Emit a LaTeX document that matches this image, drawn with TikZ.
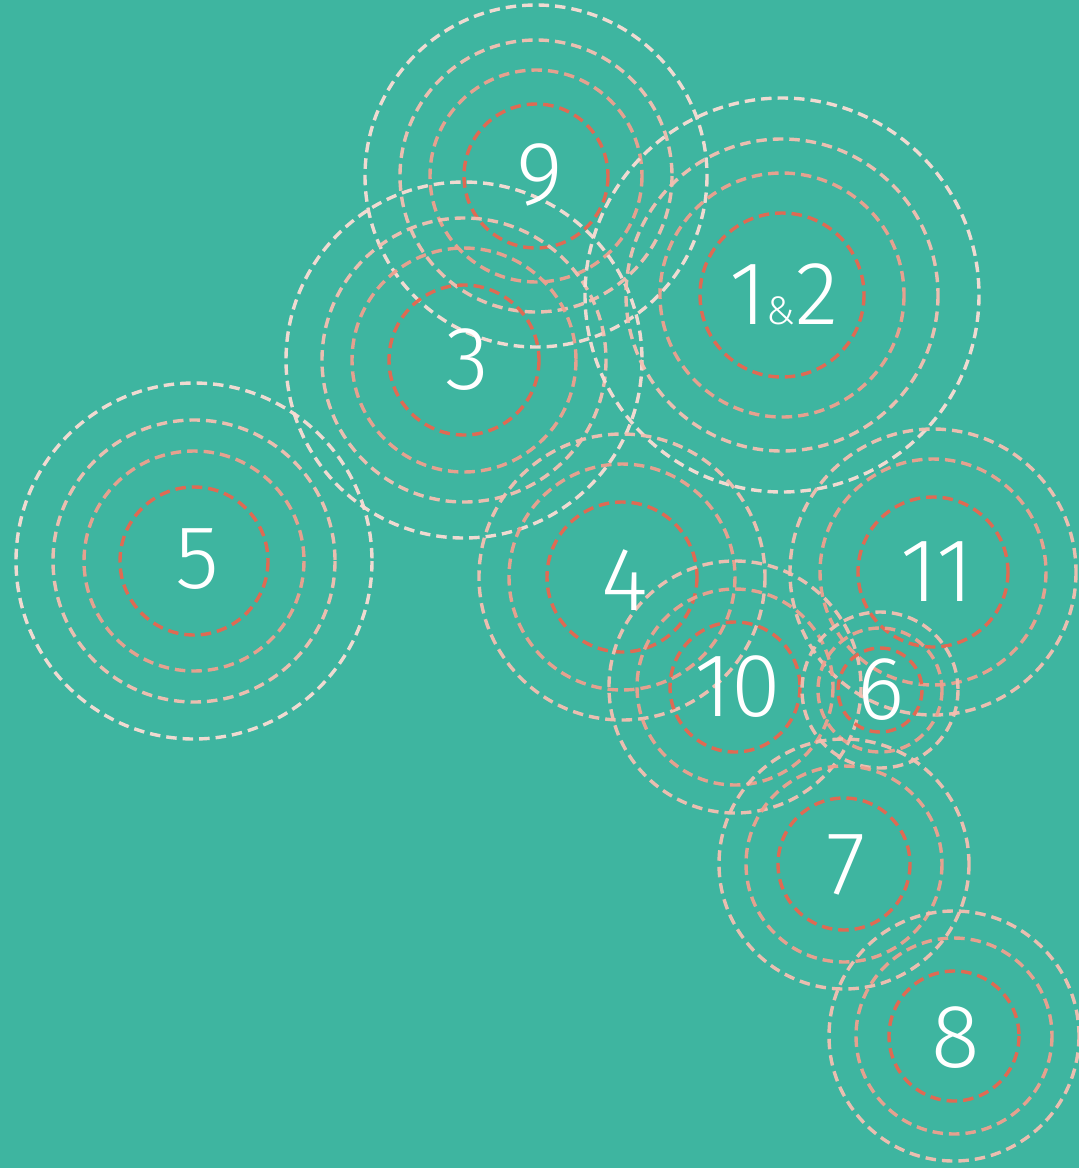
\documentclass[tikz,border=0pt]{standalone}
\usepackage{fontspec}
\newfontfamily\lblfont{Fira Sans Light}
\definecolor{bg}{HTML}{3EB5A0}
\definecolor{ringA}{HTML}{F9DDD4}
\definecolor{ringB}{HTML}{F4BFB1}
\definecolor{ringC}{HTML}{EEA08F}
\definecolor{ringD}{HTML}{E8664F}
\tikzset{
  ring/.style={line width=3.4pt, dash pattern=on 10.5pt off 6pt, opacity=0.95},
  lbl/.style={text=white, inner sep=0pt, font=\lblfont\fontsize{90}{90}\selectfont}
}
\begin{document}
\begin{tikzpicture}[x=1pt,y=-1pt]
\fill[bg] (0,0) rectangle (1079,1168);
\useasboundingbox (0,0) rectangle (1079,1168);
% four-ring groups: x, y, r1, r2, r3, r4
\foreach \cx/\cy/\ra/\rb/\rc/\rd in {
  194/561/178/141/110/74,
  536/176/171/136/106/72,
  464/360/178/142/112/75,
  782/295/197/156/122/82}{
  \draw[ring, ringA] (\cx,\cy) circle[radius=\ra];
  \draw[ring, ringB] (\cx,\cy) circle[radius=\rb];
  \draw[ring, ringC] (\cx,\cy) circle[radius=\rc];
  \draw[ring, ringD] (\cx,\cy) circle[radius=\rd];
}
% three-ring groups: x, y, r1, r2, r3
\foreach \cx/\cy/\ra/\rb/\rc in {
  622/577/143/113/75,
  933/572/143/113/75,
  735/687/126/98/65,
  880/690/78/62/42,
  844/864/125/98/66,
  954/1036/125/98/65}{
  \draw[ring, ringB] (\cx,\cy) circle[radius=\ra];
  \draw[ring, ringC] (\cx,\cy) circle[radius=\rb];
  \draw[ring, ringD] (\cx,\cy) circle[radius=\rc];
}
\node[lbl] (n5) at (197,559) {5};
\node[lbl] (n9) at (540,175) {9};
\node[lbl] (n3) at (467,360) {3};
\node[lbl] (n12) at (784,294) {1{\fontsize{40}{40}\selectfont\&}2};
\node[lbl] (n4) at (625,580) {4};
\node[lbl] (n11) at (937,572) {11};
\node[lbl] (n10) at (738,687) {10};
\node[lbl] (n6) at (881,690) {6};
\node[lbl] (n7) at (846,865) {7};
\node[lbl] (n8) at (956,1038) {8};
\end{tikzpicture}
\end{document}
